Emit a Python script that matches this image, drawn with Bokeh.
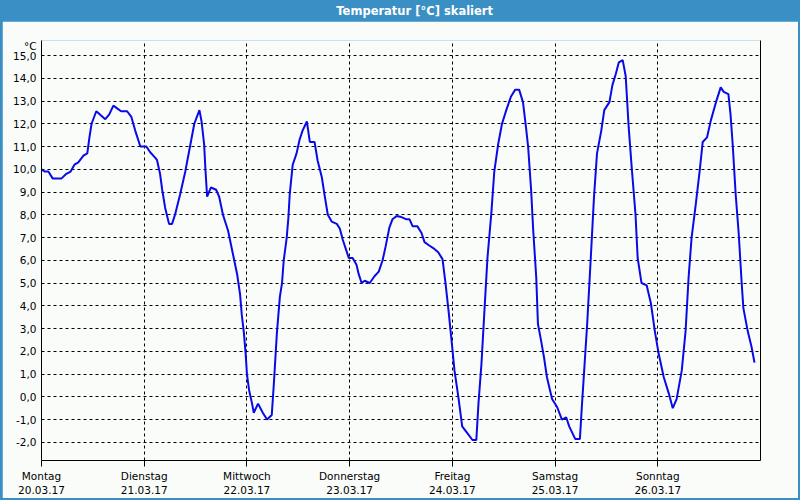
from bokeh.plotting import figure
from bokeh.layouts import column
from bokeh.models import Range1d, FixedTicker, LinearAxis
from bokeh.core.properties import value
from bokeh.embed import file_html
from bokeh.resources import INLINE

# ---- data (hours since Mon 20.03.17 00:00, temperature in °C) ----
hours = [0.0, 0.7, 1.6, 2.6, 4.7, 5.8, 6.8, 7.7, 8.6, 9.8, 10.7, 11.2, 11.7, 12.8,
         14.9, 15.8, 16.8, 17.5, 18.6, 20.0, 21.0, 21.9, 23.1, 24.5, 25.4, 26.6,
         27.0, 27.7, 28.2, 28.9, 29.8, 30.5, 31.2, 32.4, 33.6, 34.7, 35.7, 36.9,
         37.4, 38.0, 38.3, 38.7, 39.6, 40.8, 41.5, 42.4, 43.6, 44.7, 45.7, 46.4,
         46.8, 47.3, 47.7, 48.0, 48.5, 49.2, 49.6, 50.6, 51.7, 52.7, 53.8, 54.3,
         55.0, 55.7, 56.2, 56.6, 57.3, 57.7, 58.0, 58.7, 59.6, 60.3, 61.0, 62.0,
         62.7, 63.8, 64.5, 65.5, 66.2, 66.9, 67.8, 69.0, 69.7, 70.4, 71.1, 71.8,
         72.7, 73.6, 74.1, 74.8, 75.5, 76.7, 77.8, 78.8, 79.7, 80.4, 81.3, 82.0,
         83.0, 84.1, 85.3, 86.0, 86.7, 87.8, 88.8, 89.5, 90.6, 91.8, 92.7, 93.7,
         94.4, 95.1, 95.8, 96.5, 97.4, 98.3, 99.5, 100.7, 101.6, 102.1, 102.8,
         103.5, 104.2, 105.1, 105.8, 106.7, 107.6, 108.6, 109.7, 110.7, 111.6,
         112.5, 113.2, 113.7, 114.4, 114.9, 115.6, 116.0, 116.7, 117.4, 118.1,
         119.3, 120.5, 121.6, 122.6, 123.3, 124.7, 125.8, 126.3, 126.8, 127.5,
         128.4, 129.1, 129.8, 130.8, 131.5, 132.7, 133.4, 134.2, 134.9, 135.8,
         136.5, 137.2, 137.9, 138.8, 139.3, 140.2, 141.4, 142.4, 143.3, 144.2,
         145.4, 146.6, 147.5, 148.4, 149.6, 150.5, 151.2, 151.9, 152.9, 153.8,
         154.5, 155.5, 156.4, 157.6, 158.7, 159.4, 160.5, 161.0, 161.5, 162.2,
         162.9, 163.6, 164.0, 165.0, 165.9, 166.6]
temps = [10.0, 9.9, 9.9, 9.6, 9.6, 9.8, 9.9, 10.2, 10.3, 10.6, 10.7, 11.4, 12.0, 12.55,
         12.2, 12.4, 12.8, 12.7, 12.55, 12.55, 12.3, 11.7, 11.0, 11.0, 10.75, 10.5,
         10.4, 9.8, 9.1, 8.3, 7.6, 7.6, 8.0, 8.9, 9.9, 11.0, 12.0, 12.6,
         12.1, 11.1, 10.0, 8.8, 9.2, 9.1, 8.8, 8.0, 7.3, 6.3, 5.4, 4.5,
         3.6, 2.8, 1.9, 1.0, 0.3, -0.3, -0.7, -0.3, -0.7, -1.0, -0.8, 0.6,
         2.8, 4.4, 5.0, 6.0, 7.0, 7.9, 8.9, 10.2, 10.7, 11.3, 11.7, 12.1,
         11.2, 11.2, 10.4, 9.65, 8.8, 8.0, 7.7, 7.6, 7.4, 6.9, 6.5, 6.1,
         6.1, 5.8, 5.4, 5.0, 5.1, 5.0, 5.3, 5.5, 6.0, 6.6, 7.45, 7.8,
         7.95, 7.9, 7.8, 7.8, 7.5, 7.5, 7.2, 6.8, 6.65, 6.5, 6.35, 6.05,
         5.0, 3.8, 2.5, 1.15, 0.0, -1.3, -1.6, -1.9, -1.9, -0.3, 1.45,
         3.8, 6.1, 8.05, 9.9, 11.1, 12.0, 12.6, 13.2, 13.5, 13.5,
         12.95, 11.85, 11.0, 9.1, 7.3, 5.25, 3.2, 2.5, 1.75, 0.86,
         -0.1, -0.46, -1.0, -0.9, -1.3, -1.85, -1.85, -0.3, 1.15, 3.2,
         6.3, 8.8, 10.7, 11.7, 12.6, 12.95, 13.7, 14.2, 14.7, 14.8,
         14.1, 11.85, 10.1, 8.0, 6.1, 5.0, 4.9, 4.1, 2.9, 1.9,
         0.86, 0.13, -0.5, -0.1, 1.15, 2.9, 5.25, 7.0, 8.5, 9.95,
         11.2, 11.4, 12.15, 12.95, 13.6, 13.4, 13.3, 12.4, 11.1, 8.9,
         7.2, 5.0, 3.9, 2.9, 2.2, 1.5]

day_ticks = [0, 24, 48, 72, 96, 120, 144]
day_labels = ["Montag\n20.03.17", "Dienstag\n21.03.17", "Mittwoch\n22.03.17",
              "Donnerstag\n23.03.17", "Freitag\n24.03.17", "Samstag\n25.03.17",
              "Sonntag\n26.03.17"]
y_ticks = list(range(-2, 16))
y_tick_labels = [f"{v:.1f}".replace(".", ",") for v in y_ticks]
unit_pos = 15.42
unit_text = "°C"
title_text = "Temperatur [°C] skaliert"

BLUE = "#3a8fc4"
BG = "#fafcfa"
FONT = "DejaVu Sans"

# ---- title bar ----
t = figure(width=796, height=19, output_backend="svg", toolbar_location=None,
           x_range=Range1d(0, 1), y_range=Range1d(0, 1),
           min_border_left=0, min_border_right=0, min_border_top=0, min_border_bottom=0,
           border_fill_color=BLUE, background_fill_color=BLUE, outline_line_color=None)
t.axis.visible = False
t.grid.visible = False
t.text(x=[0.519], y=[0.55], text=[title_text], text_align="center", text_baseline="middle",
       text_color="white", text_font_style="bold", text_font_size="11.5px",
       text_font=value(FONT))

# ---- main chart ----
p = figure(width=796, height=477, output_backend="svg", toolbar_location=None,
           x_range=Range1d(0, 168), y_range=Range1d(-2.80, 15.66),
           min_border_left=39, min_border_right=38, min_border_top=19, min_border_bottom=38,
           border_fill_color=BG, background_fill_color=BG, outline_line_color=None)

yax = p.yaxis[0]
yax.ticker = FixedTicker(ticks=y_ticks + [unit_pos])
overrides = {t_: l for t_, l in zip(y_ticks, y_tick_labels)}
overrides[unit_pos] = unit_text
yax.major_label_overrides = overrides
yax.major_tick_out = 0
yax.major_tick_in = 0
yax.minor_tick_line_color = None
yax.major_label_standoff = 5
yax.axis_line_color = "black"
yax.major_label_text_font = FONT
yax.major_label_text_font_size = "10.5px"
yax.major_label_text_color = "black"

xax = p.xaxis[0]
xax.ticker = FixedTicker(ticks=day_ticks)
xax.major_label_overrides = {t_: l for t_, l in zip(day_ticks, day_labels)}
xax.major_tick_out = 6
xax.major_tick_in = 0
xax.minor_tick_line_color = None
xax.major_label_standoff = 3
xax.axis_line_color = "black"
xax.major_label_text_font = FONT
xax.major_label_text_font_size = "10.5px"
xax.major_label_text_color = "black"

rax = LinearAxis(ticker=FixedTicker(ticks=[]), major_tick_line_color=None,
                 minor_tick_line_color=None, axis_line_color="black")
p.add_layout(rax, "right")

for g, tk in ((p.xgrid[0], day_ticks), (p.ygrid[0], y_ticks)):
    g.ticker = FixedTicker(ticks=tk)
    g.grid_line_color = "black"
    g.grid_line_dash = "3 3"
    g.grid_line_width = 1

p.line(hours, temps, line_color="#0a0ae6", line_width=2)

layout = column(t, p, spacing=0,
                styles={"background-color": BLUE, "padding": "2px 2px 2px 2px"})

open("out.html", "w").write(file_html(layout, INLINE))
